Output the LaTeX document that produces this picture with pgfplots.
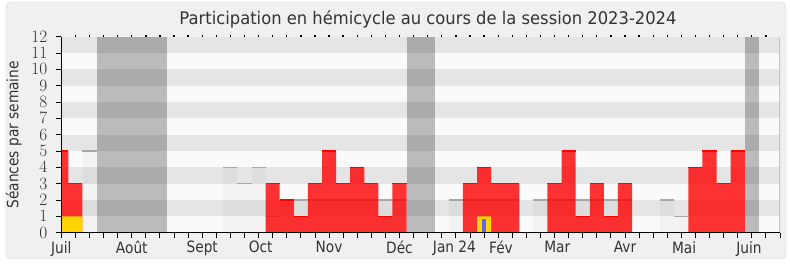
\documentclass[border=0pt]{standalone}
\usepackage{pgfplots}
\usepackage{pgfplotstable}
\pgfplotsset{compat=1.18}
\usepackage{fontspec}
\setmainfont{DejaVu Sans}[FakeStretch=0.88]
\newfontfamily\titlefont{DejaVu Sans}[FakeStretch=0.94]
\definecolor{bgc}{HTML}{F0F0F0}
\definecolor{framec}{HTML}{D8D8D8}
\definecolor{bandg}{HTML}{E5E5E5}
\definecolor{bandw}{HTML}{FAFAFA}
\definecolor{redb}{HTML}{FF0000}
\definecolor{goldc}{HTML}{FFD400}
\definecolor{bluec}{HTML}{6464F0}
\definecolor{medline}{HTML}{A8A8A8}
\definecolor{txt}{HTML}{333333}

\pgfplotstableread{
x y
0 5
1 3
15 3
16 2
17 1
18 3
19 5
20 3
21 4
22 3
23 1
24 3
29 3
30 4
31 3
32 3
35 3
36 5
37 1
38 3
39 1
40 3
45 4
46 5
47 3
48 5
}\redtab

\pgfplotstableread{
x y
2 5
12 4
13 3
14 4
15 1
16 2
17 2
18 2
19 2
20 2
21 2
22 2
23 2
24 2
28 2
29 2
30 2
31 2
32 2
34 2
35 2
36 2
37 2
38 2
39 2
40 2
43 2
44 1
}\medtab

\pgfplotstableread{
x y
0 1
1 1
30 1
}\goldtab

\pgfplotstableread{
x y
30 0.82
}\bluetab

\begin{document}
\begin{tikzpicture}
\fill[white] (0pt,0pt) rectangle (790pt,267pt);
\fill[bgc, draw=framec, rounded corners=5pt] (6pt,8pt) rectangle (786pt,265pt);
\node[txt, font=\titlefont\fontsize{17.4}{20}\selectfont] at (428pt,248pt) {Participation en hémicycle au cours de la session 2023-2024};
\begin{axis}[
  at={(61.3pt,34.3pt)}, anchor=south west,
  scale only axis, width=718.7pt, height=196pt,
  xmin=0, xmax=51, ymin=0, ymax=12,
  axis x line*=bottom, axis y line*=left,
  axis line style={black, line width=1.3pt, -},
  axis on top,
  clip marker paths=true,
  xtick={0,...,51}, xticklabels={},
  ytick={0,...,12},
  tick style={black, line width=0.9pt},
  major tick length=5.5pt,
  tick align=outside,
  yticklabel style={txt, font=\fontsize{16}{16}\selectfont, xshift=-5pt},
  extra x ticks={0,5,10,14.15,19,24,27.9,31.2,35.2,40,44.2,48.8},
  extra x tick labels={Juil,Août,Sept,Oct,Nov,Déc,Jan 24,Fév,Mar,Avr,Mai,Juin},
  extra x tick style={major tick length=0pt, tick style={draw=none},
     xticklabel style={txt, font=\fontsize{15.6}{16}\selectfont, yshift=-5pt, anchor=north}},
  ylabel={Séances par semaine},
  every axis y label/.style={at={(axis description cs:-0.066,0.5)}, rotate=90, anchor=center, font=\fontsize{15.6}{16}\selectfont, text=txt},
]
% background bands
\fill[bandw] (axis cs:0,0) rectangle (axis cs:51,12);
\fill[bandg] (axis cs:0,1) rectangle (axis cs:51,2);
\fill[bandg] (axis cs:0,3) rectangle (axis cs:51,4);
\fill[bandg] (axis cs:0,5) rectangle (axis cs:51,6);
\fill[bandg] (axis cs:0,7) rectangle (axis cs:51,8);
\fill[bandg] (axis cs:0,9) rectangle (axis cs:51,10);
\fill[bandg] (axis cs:0,11) rectangle (axis cs:51,12);
% vacations
\fill[black, opacity=0.25] (axis cs:2.5,0) rectangle (axis cs:7.5,12);
\fill[black, opacity=0.25] (axis cs:24.5,0) rectangle (axis cs:26.5,12);
\fill[black, opacity=0.25] (axis cs:48.5,0) rectangle (axis cs:49.5,12);
\draw[black!22, line width=1.2pt] (axis cs:51,0) -- (axis cs:51,12);
% median bars
\addplot[ybar, bar width=1, bar shift=0, fill=black, fill opacity=0.03, draw=none] table[x=x,y=y] {\medtab};
\addplot[only marks, mark=-, mark size=7.05pt, mark options={draw=medline, line width=1.2pt}] table[x=x,y=y] {\medtab};
% red bars
\addplot[ybar, bar width=1, bar shift=0, fill=redb, fill opacity=0.8, draw=none] table[x=x,y=y] {\redtab};
\addplot[only marks, mark=-, mark size=7.05pt, mark options={draw=redb, line width=1.1pt}] table[x=x,y=y] {\redtab};
% gold
\addplot[ybar, bar width=1, bar shift=0, fill=goldc, draw=none] table[x=x,y=y] {\goldtab};
% blue
\addplot[ybar, bar width=0.26, bar shift=0, fill=bluec, draw=none] table[x=x,y=y] {\bluetab};
\end{axis}
\begin{axis}[
  at={(61.3pt,34.3pt)}, anchor=south west,
  scale only axis, width=718.7pt, height=196pt,
  xmin=0, xmax=51, ymin=0, ymax=12,
  axis x line*=top, hide y axis,
  axis line style={draw=none},
  xtick={1,...,50}, xticklabels={},
  tick style={black, line width=1.3pt},
  major tick length=1.3pt, tick align=outside,
]
\end{axis}
\end{tikzpicture}
\end{document}
